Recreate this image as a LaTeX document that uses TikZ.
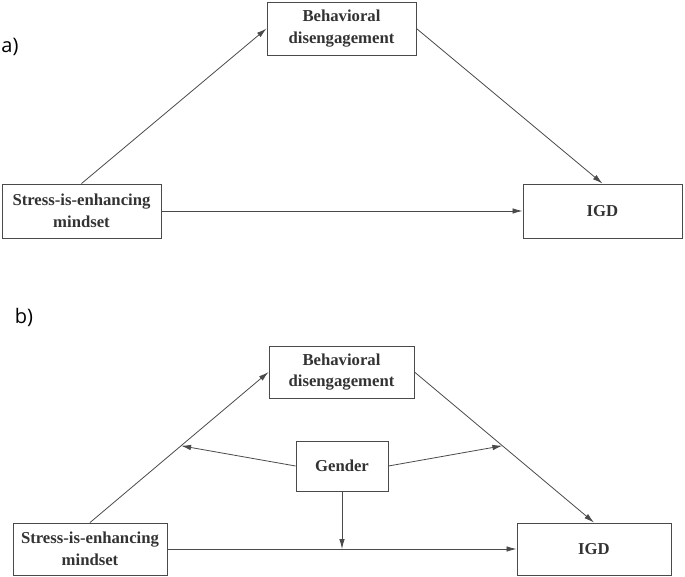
\documentclass[tikz,border=0pt]{standalone}
\usepackage{fontspec}
\setmainfont{Liberation Serif}
\newfontfamily\labelfont{Open Sans}
\usetikzlibrary{arrows.meta,calc}
\definecolor{linegray}{HTML}{4A4A4A}
\definecolor{textgray}{HTML}{333333}

\begin{document}
\begin{tikzpicture}[x=1pt,y=1pt,
    box/.style={draw=linegray,line width=0.9pt,text=textgray,align=center,inner sep=0pt,
      font=\fontsize{16.7}{21.5}\selectfont\bfseries},
    link/.style={draw=linegray,line width=0.8pt,-{Latex[length=10pt,width=5.5pt]}},
    panel/.style={font=\labelfont\fontsize{20}{24}\selectfont,text=black}]
    \useasboundingbox (0,0) rectangle (685,-577);
    % panel a
    \node [panel] (labA) at (10,-47) {a)};
    \node [box,minimum width=149,minimum height=53] (bdA) at (341.5,-28.5) {Behavioral\\disengagement};
    \node [box,minimum width=159,minimum height=54] (smA) at (81.5,-211) {Stress-is-enhancing\\mindset};
    \node [box,minimum width=159,minimum height=54] (igdA) at (602.5,-211) {IGD};
    \draw [link] (smA.north) -- (bdA.west);
    \draw [link] (bdA.east) -- (igdA.north);
    \draw [link] (smA.east) -- (igdA.west);
    % panel b
    \node [panel] (labB) at (24,-317) {b)};
    \node [box,minimum width=145,minimum height=52] (bdB) at (341.5,-372) {Behavioral\\disengagement};
    \node [box,minimum width=92,minimum height=50] (gen) at (342,-466) {Gender};
    \node [box,minimum width=154,minimum height=52] (smB) at (90,-549) {Stress-is-enhancing\\mindset};
    \node [box,minimum width=154,minimum height=52] (igdB) at (594,-549) {IGD};
    \draw [link] (smB.north) -- (bdB.west);
    \draw [link] (bdB.east) -- (igdB.north);
    \draw [link] (smB.east) -- (igdB.west);
    \coordinate (modL) at ($(smB.north)!0.51!(bdB.west)$);
    \coordinate (modR) at ($(bdB.east)!0.49!(igdB.north)$);
    \coordinate (modD) at (gen.south |- smB.east);
    \draw [link] (gen.west) -- (modL);
    \draw [link] (gen.east) -- (modR);
    \draw [link] (gen.south) -- (modD);
\end{tikzpicture}
\end{document}
